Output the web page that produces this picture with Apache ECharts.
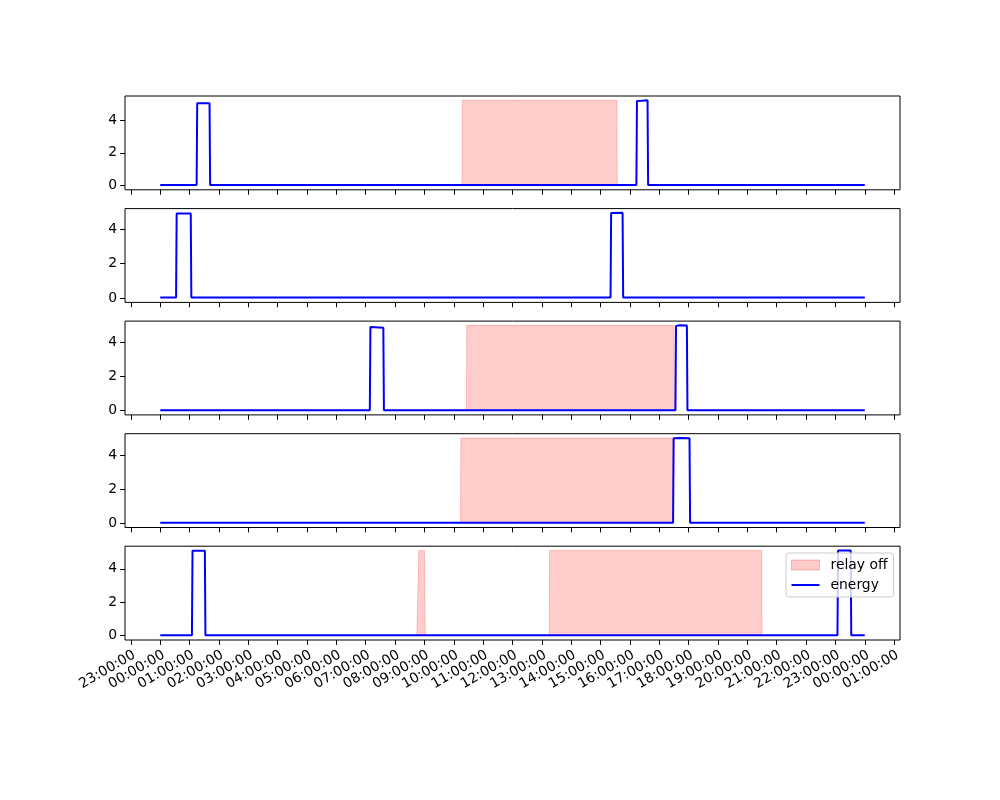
<!DOCTYPE html>
<html><head><meta charset="utf-8">
<script src="https://cdn.jsdelivr.net/npm/echarts@6/dist/echarts.min.js"></script>
<style>html,body{margin:0;padding:0;background:#fff}#c{width:1000px;height:800px}</style>
</head><body><div id="c"></div>
<script>
// hours since 00:00 of the day
const tickHours = [-1,0,1,2,3,4,5,6,7,8,9,10,11,12,13,14,15,16,17,18,19,20,21,22,23,24,25];
const tickLabels = ['23:00:00','00:00:00','01:00:00','02:00:00','03:00:00','04:00:00','05:00:00','06:00:00','07:00:00','08:00:00','09:00:00','10:00:00','11:00:00','12:00:00','13:00:00','14:00:00','15:00:00','16:00:00','17:00:00','18:00:00','19:00:00','20:00:00','21:00:00','22:00:00','23:00:00','00:00:00','01:00:00'];
const yTicks = [0, 2, 4];

const energy1 = [[0,0.03],[1.24,0.03],[1.26,5.03],[1.68,5.04],[1.70,0.03],[16.22,0.03],[16.24,5.18],[16.40,5.19],[16.44,5.22],[16.60,5.22],[16.62,0.03],[24,0.03]];
const energy2 = [[0,0.03],[0.54,0.03],[0.56,4.90],[1.04,4.90],[1.06,0.03],[15.34,0.03],[15.36,4.92],[15.75,4.93],[15.77,0.03],[24,0.03]];
const energy3 = [[0,0.03],[7.14,0.03],[7.16,4.92],[7.60,4.87],[7.62,0.03],[17.55,0.03],[17.57,4.98],[17.70,5.01],[17.94,5.00],[17.96,0.03],[24,0.03]];
const energy4 = [[0,0.03],[17.47,0.03],[17.49,4.98],[17.70,5.00],[18.03,4.99],[18.05,0.03],[24,0.03]];
const energy5 = [[0,0.03],[1.08,0.03],[1.10,5.08],[1.52,5.08],[1.54,0.03],[23.07,0.03],[23.09,5.10],[23.52,5.10],[23.54,0.03],[24,0.03]];

// relay off periods: [bottom start, top start, top end, bottom end] in hours
const relayOff1 = [[10.28,10.29,15.56,15.57]];
const relayOff2 = [];
const relayOff3 = [[10.43,10.44,17.50,17.52]];
const relayOff4 = [[10.23,10.24,17.46,17.47]];
const relayOff5 = [[8.74,8.81,9.00,9.03],[13.25,13.26,20.49,20.50]];

const energies = [energy1, energy2, energy3, energy4, energy5];
const relays = [relayOff1, relayOff2, relayOff3, relayOff4, relayOff5];

const FONT = 'DejaVu Sans';
const FS = 13.9;
const tops = [96, 208.6, 321.1, 433.7, 546.2];
const H = 93.8;

const grids = [], xAxes = [], yAxes = [], series = [];
energies.forEach((en, i) => {
  const D = Math.max(...en.map(p => p[1]));
  grids.push({left: 125, width: 775, top: tops[i], height: H, show: true, borderColor: '#000', borderWidth: 1, backgroundColor: 'transparent'});
  const last = i === energies.length - 1;
  xAxes.push({
    type: 'value', gridIndex: i, min: -1.2, max: 25.2, position: 'bottom',
    axisLine: {show: false, onZero: false}, splitLine: {show: false},
    axisTick: {show: true, customValues: tickHours, length: 4.9, lineStyle: {color: '#000', width: 1}},
    axisLabel: {show: last, customValues: tickHours, rotate: 30, margin: 8, verticalAlign: 'top', color: '#000', fontFamily: FONT, fontSize: FS,
      formatter: v => tickLabels[tickHours.indexOf(Math.round(v))]}
  });
  yAxes.push({
    type: 'value', gridIndex: i, min: -0.05 * D, max: 1.05 * D, position: 'left',
    axisLine: {show: false, onZero: false}, splitLine: {show: false},
    axisTick: {show: true, customValues: yTicks, length: 4.9, lineStyle: {color: '#000', width: 1}},
    axisLabel: {show: true, customValues: yTicks, margin: 8, color: '#000', fontFamily: FONT, fontSize: FS}
  });
  relays[i].forEach(r => {
    series.push({
      name: 'relay off', type: 'line', xAxisIndex: i, yAxisIndex: i, symbol: 'none', z: 1,
      data: [[r[0], 0], [r[1], D], [r[2], D], [r[3], 0]],
      lineStyle: {color: 'rgba(255,0,0,0.2)', width: 1},
      itemStyle: {color: 'rgba(255,0,0,0.2)'},
      areaStyle: {color: 'rgba(255,0,0,0.2)', opacity: 1, origin: 0}
    });
  });
  series.push({
    name: 'energy', type: 'line', xAxisIndex: i, yAxisIndex: i, symbol: 'none', z: 3,
    data: en, lineStyle: {color: '#0000ff', width: 2}, itemStyle: {color: '#0000ff'}
  });
});

const chart = echarts.init(document.getElementById('c'), null, {renderer: 'canvas'});
chart.setOption({
  animation: false,
  backgroundColor: '#fff',
  grid: grids, xAxis: xAxes, yAxis: yAxes, series: series,
  legend: {
    orient: 'vertical', left: 786, top: 553, z: 10,
    padding: [5, 6, 5, 5], itemGap: 6, itemWidth: 28, itemHeight: 10,
    backgroundColor: 'rgba(255,255,255,0.8)', borderColor: '#cccccc', borderWidth: 1, borderRadius: 3,
    selectedMode: false, symbolKeepAspect: true,
    textStyle: {color: '#000', fontFamily: FONT, fontSize: FS, padding: [0, 0, 0, 6]},
    data: [
      {name: 'relay off', icon: 'rect', itemStyle: {color: 'rgba(255,0,0,0.2)', borderColor: 'rgba(255,0,0,0.25)', borderWidth: 1}},
      {name: 'energy', icon: 'path://M0,0H28V2H0Z', itemStyle: {color: '#0000ff', borderWidth: 0}}
    ]
  }
});
</script></body></html>
